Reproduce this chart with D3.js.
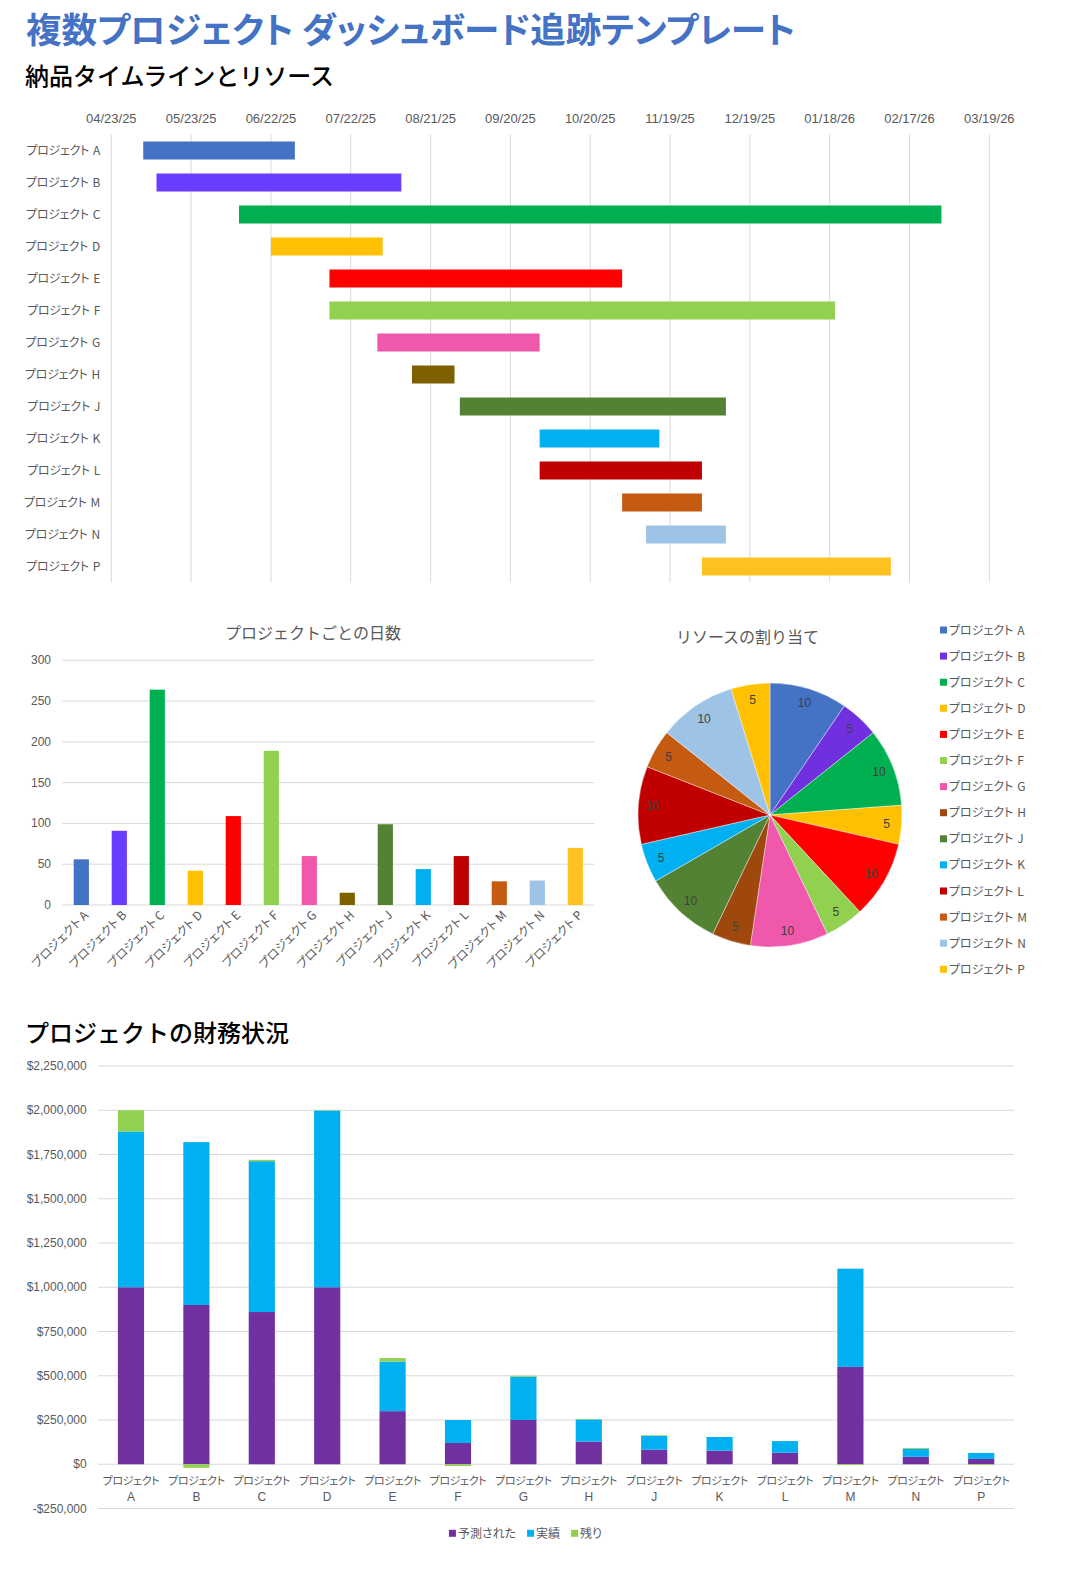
<!DOCTYPE html>
<html><head><meta charset="utf-8">
<script src="https://cdn.jsdelivr.net/npm/d3@7"></script>
<style>
body{margin:0;background:#fff;}
svg text{font-family:"Noto Sans CJK JP","Noto Sans",sans-serif;}
.jp{font-feature-settings:"palt";}
.num{font-family:"Liberation Sans",Arial,sans-serif !important;}
</style></head><body>
<svg id="c" width="1074" height="1579"></svg>
<script>
// ---------- DATA ----------
const letters = ["A","B","C","D","E","F","G","H","J","K","L","M","N","P"];
const projects = letters.map(l => "プロジェクト " + l);
const ganttStart = ["05/05/25","05/10/25","06/10/25","06/22/25","07/14/25","07/14/25","08/01/25","08/14/25","09/01/25","10/01/25","10/01/25","11/01/25","11/10/25","12/01/25"];
const ganttEnd   = ["07/01/25","08/10/25","03/01/26","08/03/25","11/01/25","01/20/26","10/01/25","08/30/25","12/10/25","11/15/25","12/01/25","12/01/25","12/10/25","02/10/26"];
const ganttTicks = ["04/23/25","05/23/25","06/22/25","07/22/25","08/21/25","09/20/25","10/20/25","11/19/25","12/19/25","01/18/26","02/17/26","03/19/26"];
const days = [56,91,264,42,109,189,60,15,99,44,60,29,30,70];
const dayTicks = [0,50,100,150,200,250,300];
const resources = [10,5,10,5,10,5,10,5,10,5,10,5,10,5];
const budget    = [1000000, 900000, 860000, 1000000, 300000, 120000, 250000, 128000, 82000, 77000, 65000, 550000, 42000, 30000];
const actual    = [ 880000, 920000, 852000,  998000, 280000, 130000, 245000, 125000, 79000, 77000, 66000, 555000, 45000, 34000];
const remaining = [ 120000, -20000,   8000,    2000,  20000, -10000,   5000,   3000,  3000,     0, -1000,  -5000,  5000, -4000];
const finTicks = [-250000,0,250000,500000,750000,1000000,1250000,1500000,1750000,2000000,2250000];
const seriesNames = ["予測された","実績","残り"];
const ganttColors = ["#4472C4","#6A3CFF","#00B050","#FFC000","#FF0000","#92D050","#EF58AB","#7F6000","#548235","#00B0F0","#C00000","#C55A11","#9DC3E6","#FDC21F"];
const pieColors   = ["#4472C4","#7030DF","#00B050","#FFC000","#FF0000","#92D050","#EF58AB","#9E480E","#548235","#00B0F0","#C00000","#C55A11","#9DC3E6","#FFC000"];
const seriesColors = ["#7030A0","#00B0F0","#92D050"];

// ---------- SETUP ----------
const svg = d3.select("#c");
const grid = "#d9d9d9", txt = "#595959";
const parse = d3.timeParse("%m/%d/%y");
// draws "プロジェクト X" with a visible gap before the letter
function projLabel(sel) {
  sel.each(function(d) {
    const parts = d.split(" ");
    const t = d3.select(this);
    t.append("tspan").text(parts[0]);
    t.append("tspan").attr("dx", 4).text(parts[1]);
  });
}

// titles
svg.append("text").attr("x",26).attr("y",43).attr("font-size",35.5).attr("font-weight",700)
  .attr("fill","#4472C4").attr("class","jp").text("複数プロジェクト ダッシュボード追跡テンプレート");
svg.append("text").attr("x",25).attr("y",85).attr("font-size",24).attr("font-weight",500)
  .attr("fill","#000").text("納品タイムラインとリソース");

// ---------- GANTT ----------
const gx = d3.scaleTime().domain([parse(ganttTicks[0]), parse(ganttTicks[ganttTicks.length-1])]).range([111.3, 989.3]);
const gy = d3.scaleBand().domain(projects).range([134.5, 582.5]).paddingInner(0.4375).paddingOuter(0.21875);
const gG = svg.append("g");
gG.selectAll("line.g").data(ganttTicks).join("line")
  .attr("x1", d => gx(parse(d))).attr("x2", d => gx(parse(d)))
  .attr("y1", 134.5).attr("y2", 582.5).attr("stroke", grid).attr("stroke-width",1);
gG.selectAll("text.t").data(ganttTicks).join("text").attr("class","num")
  .attr("x", d => gx(parse(d))).attr("y", 123).attr("text-anchor","middle")
  .attr("font-size",13).attr("fill",txt).text(d => d);
gG.selectAll("rect").data(projects).join("rect")
  .attr("x", (d,i) => gx(parse(ganttStart[i])))
  .attr("width", (d,i) => gx(parse(ganttEnd[i])) - gx(parse(ganttStart[i])))
  .attr("y", d => gy(d)).attr("height", gy.bandwidth())
  .attr("fill", (d,i) => ganttColors[i]);
gG.selectAll("text.l").data(projects).join("text").attr("class","jp")
  .attr("x", 100).attr("y", d => gy(d) + gy.bandwidth()/2 + 4.5).attr("text-anchor","end")
  .attr("font-size",12).attr("letter-spacing",-0.3).attr("fill",txt).call(projLabel);

// ---------- DAYS BAR CHART ----------
const bx = d3.scaleBand().domain(projects).range([62.3, 594.3]).paddingInner(0.6).paddingOuter(0.3);
const by = d3.scaleLinear().domain([0,300]).range([905, 660.3]);
const bG = svg.append("g");
bG.append("text").attr("x",313).attr("y",639).attr("text-anchor","middle").attr("font-size",16)
  .attr("fill",txt).text("プロジェクトごとの日数");
bG.selectAll("line").data(dayTicks).join("line")
  .attr("x1",62.3).attr("x2",594.3).attr("y1",d=>by(d)).attr("y2",d=>by(d))
  .attr("stroke",grid);
bG.selectAll("text.y").data(dayTicks).join("text").attr("class","num")
  .attr("x",51).attr("y",d=>by(d)+4).attr("text-anchor","end").attr("font-size",12)
  .attr("fill",txt).text(d=>d);
bG.selectAll("rect").data(projects).join("rect")
  .attr("x", d => bx(d)).attr("width", bx.bandwidth())
  .attr("y", (d,i) => by(days[i])).attr("height", (d,i) => by(0) - by(days[i]))
  .attr("fill", (d,i) => ganttColors[i]);
bG.selectAll("text.x").data(projects).join("text").attr("class","jp")
  .attr("transform", d => `translate(${bx(d)+bx.bandwidth()/2+5},${913}) rotate(-45)`)
  .attr("text-anchor","end").attr("dy","0.35em").attr("font-size",12).attr("fill",txt).text(d=>d);

// ---------- PIE ----------
const pc = [770, 815], pr = 132;
const pG = svg.append("g").attr("transform",`translate(${pc[0]},${pc[1]})`);
svg.append("text").attr("x",747.5).attr("y",643).attr("text-anchor","middle").attr("font-size",16)
  .attr("fill",txt).text("リソースの割り当て");
const pie = d3.pie().sort(null).value(d => d)(resources);
const arc = d3.arc().innerRadius(0).outerRadius(pr);
const labArc = d3.arc().innerRadius(117).outerRadius(117);
pG.selectAll("path").data(pie).join("path").attr("d", arc).attr("fill", (d,i) => pieColors[i])
  .attr("stroke","#fff").attr("stroke-width",0.4);
pG.selectAll("text").data(pie).join("text").attr("class","num")
  .attr("transform", d => `translate(${labArc.centroid(d)})`)
  .attr("text-anchor","middle").attr("dy","0.35em").attr("font-size",12).attr("fill","#404040")
  .text(d => d.data);
const lG = svg.append("g");
lG.selectAll("rect").data(projects).join("rect")
  .attr("x",940).attr("y",(d,i) => 630 + i*26.1 - 3.5).attr("width",7).attr("height",7)
  .attr("fill",(d,i) => pieColors[i]);
lG.selectAll("text").data(projects).join("text").attr("class","jp")
  .attr("x",949).attr("y",(d,i) => 630 + i*26.1 + 4.5).attr("font-size",12).attr("fill",txt).call(projLabel);

// ---------- FINANCE ----------
svg.append("text").attr("x",25).attr("y",1042).attr("font-size",24).attr("font-weight",500)
  .attr("fill","#000").text("プロジェクトの財務状況");
const fx = d3.scaleBand().domain(letters).range([98.3, 1013.9]).paddingInner(0.6).paddingOuter(0.3);
const fy = d3.scaleLinear().domain([-250000, 2250000]).range([1508.5, 1066]);
const fG = svg.append("g");
fG.selectAll("line").data(finTicks).join("line")
  .attr("x1",98.3).attr("x2",1013.9).attr("y1",d=>fy(d)).attr("y2",d=>fy(d)).attr("stroke",grid);
const money = d => (d<0?"-":"") + "$" + d3.format(",")(Math.abs(d));
fG.selectAll("text.y").data(finTicks).join("text").attr("class","num")
  .attr("x",86.7).attr("y",d=>fy(d)+4).attr("text-anchor","end").attr("font-size",12)
  .attr("fill",txt).text(money);
const rows = letters.map((l,i) => ({l, b: budget[i], a: actual[i], r: remaining[i]}));
const stack = d3.stack().keys(["b","a","r"]).offset(d3.stackOffsetDiverging)(rows);
stack.forEach((s,k) => {
  fG.append("g").selectAll("rect").data(s).join("rect")
    .attr("x", d => fx(d.data.l)).attr("width", fx.bandwidth())
    .attr("y", d => fy(Math.max(d[0],d[1]))).attr("height", d => Math.abs(fy(d[0]) - fy(d[1])))
    .attr("fill", seriesColors[k]);
});
fG.selectAll("text.x1").data(letters).join("text").attr("class","jp")
  .attr("x", d => fx(d)+fx.bandwidth()/2).attr("y",1485).attr("text-anchor","middle")
  .attr("font-size",11).attr("letter-spacing",-0.4).attr("fill",txt).text("プロジェクト");
fG.selectAll("text.x2").data(letters).join("text").attr("class","num")
  .attr("x", d => fx(d)+fx.bandwidth()/2).attr("y",1500.5).attr("text-anchor","middle")
  .attr("font-size",12).attr("fill",txt).text(d=>d);
// legend
const legG = svg.append("g");
let lx = 0;
const items = seriesNames.map((n,i) => {
  const g = legG.append("g");
  g.append("rect").attr("x",0).attr("y",-3.5).attr("width",7).attr("height",7).attr("fill",seriesColors[i]);
  const t = g.append("text").attr("class","jp").attr("x",9).attr("y",4.5).attr("font-size",12).attr("fill",txt).text(n);
  const w = 9 + t.node().getComputedTextLength();
  const pos = lx; lx += w + 11;
  return {g, pos};
});
const total = lx - 11, start = 525.5 - total/2;
items.forEach(it => it.g.attr("transform", `translate(${start+it.pos},1533.3)`));
</script>
</body></html>
